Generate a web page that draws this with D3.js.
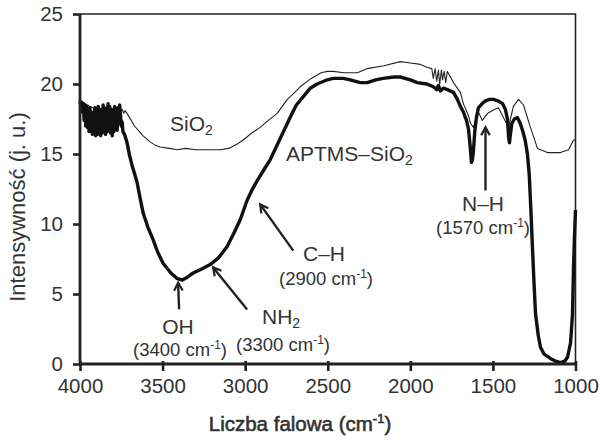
<!DOCTYPE html>
<html><head><meta charset="utf-8">
<script src="https://cdn.jsdelivr.net/npm/d3@7"></script>
<style>body{margin:0;background:#fff}svg{display:block;font-family:"Liberation Sans",Arial,sans-serif}</style>
</head><body><svg id="c" width="601" height="442"></svg>
<script>
// ---- data (wavenumber cm^-1, intensity) ----
const xTicks = [4000, 3500, 3000, 2500, 2000, 1500, 1000];
const yTicks = [0, 5, 10, 15, 20, 25];

const aptmsWn = [4000,3995,3990,3985,3980,3975,3970,3965,3960,3955,3950,3945,3940,3935,3930,3925,3920,3915,3910,3905,3900,3895,3890,3885,3880,3875,3870,3865,3860,3855,3850,3845,3840,3835,3830,3825,3820,3815,3810,3805,3800,3795,3790,3785,3780,3775,3770,3765,3760,3755,3750,3745,3740,3730,3715,3700,3685,3670,3655,3635,3618,3590,3558,3530,3497,3450,3412,3380,3350,3315,3260,3212,3160,3109,3070,3030,2988,2960,2927,2880,2848,2800,2760,2720,2690,2648,2606,2564,2503,2467,2406,2364,2303,2261,2210,2164,2100,2061,2000,1958,1900,1861,1840,1830,1818,1800,1776,1739,1715,1697,1679,1660,1648,1638,1630,1624,1618,1610,1600,1588,1565,1545,1520,1497,1470,1442,1425,1412,1405,1400,1393,1385,1370,1352,1335,1321,1305,1291,1280,1270,1261,1250,1242,1225,1212,1190,1152,1120,1091,1065,1048,1030,1018,1012,1005,1000];
const aptmsVal = [18.8,18.5,18.7,18.0,18.6,17.4,18.5,17.0,18.4,16.9,18.2,16.6,18.3,16.8,18.0,16.4,17.8,16.5,18.3,16.3,18.1,16.4,18.4,16.6,18.2,16.3,17.9,16.5,18.5,16.8,18.0,16.4,18.3,16.6,18.6,17.0,18.4,16.5,18.2,16.3,17.9,16.6,18.4,16.9,18.0,16.7,18.3,17.2,18.5,17.8,17.0,17.3,16.6,16.4,15.8,14.9,14.2,13.6,13.0,11.8,10.8,9.8,8.9,8.0,7.2,6.5,6.1,6.0,6.2,6.5,6.8,7.1,7.6,8.4,9.3,10.3,11.7,12.4,13.1,14.0,14.6,15.8,16.8,17.8,18.5,19.1,19.7,20.0,20.3,20.4,20.4,20.3,20.1,20.1,20.3,20.4,20.5,20.5,20.3,20.1,20.0,19.8,19.6,19.9,19.5,19.7,19.6,19.4,18.9,18.4,18.0,17.4,16.8,15.6,14.4,14.6,15.2,16.6,17.6,18.3,18.6,18.8,18.9,18.9,18.8,18.6,18.2,17.5,16.2,15.8,16.5,17.2,17.5,17.6,17.2,16.7,16.0,15.0,13.5,11.0,8.4,5.5,3.6,2.0,1.2,0.7,0.4,0.2,0.1,0.2,0.5,1.5,3.6,6.9,9.5,11.0];

const sio2Wn = [4000,3970,3940,3900,3860,3820,3790,3758,3745,3735,3728,3715,3700,3670,3640,3618,3580,3540,3515,3460,3412,3360,3300,3250,3212,3150,3100,3050,3012,2960,2909,2860,2806,2745,2709,2667,2600,2540,2503,2467,2400,2320,2261,2160,2061,2000,1939,1900,1870,1861,1850,1840,1830,1822,1812,1805,1795,1786,1776,1739,1697,1679,1650,1636,1618,1600,1588,1564,1533,1503,1467,1436,1406,1376,1345,1315,1273,1230,1170,1091,1042,1012,1000];
const sio2Val = [18.8,18.6,18.4,18.2,18.0,17.9,17.8,17.9,18.2,17.9,18.1,17.9,17.6,17.0,16.6,16.3,15.9,15.6,15.5,15.4,15.3,15.4,15.3,15.3,15.3,15.3,15.4,15.7,16.0,16.5,16.9,17.4,17.9,18.9,19.3,19.8,20.4,20.8,20.9,20.9,20.8,20.8,21.1,21.3,21.6,21.5,21.4,21.2,21.1,20.4,21.1,20.2,21.0,20.0,21.0,20.3,20.9,20.1,20.9,20.1,19.4,18.6,17.8,17.2,16.9,17.6,18.0,17.4,17.9,18.1,18.3,17.6,16.9,18.4,18.9,18.5,16.9,15.4,15.1,15.1,15.3,16.0,16.0];

// ---- layout ----
const svg = d3.select("#c");
const x = d3.scaleLinear().domain([4000, 1000]).range([80, 575.5]);
const y = d3.scaleLinear().domain([0, 25]).range([364, 14]);
const textCol = "#333";

// frame (top & right)
svg.append("path").attr("d", `M${x(4000)},${y(25)}H${x(1000)}V${y(0)}`)
  .attr("fill","none").attr("stroke","#222").attr("stroke-width",1.6);

// lines
const line = d3.line().x(d => x(d[0])).y(d => y(d[1]));
svg.append("path").datum(sio2Wn.map((w,i)=>[w,sio2Val[i]]))
  .attr("d", line).attr("fill","none").attr("stroke","#222").attr("stroke-width",1.1).attr("stroke-linejoin","round");
svg.append("path").datum(aptmsWn.map((w,i)=>[w,aptmsVal[i]]))
  .attr("d", line).attr("fill","none").attr("stroke","#111").attr("stroke-width",3.4).attr("stroke-linejoin","round");

// axes
const xAxis = svg.append("g").attr("transform",`translate(0,${y(0)})`)
  .call(d3.axisBottom(x).tickValues(xTicks).tickSize(7).tickPadding(7).tickFormat(d3.format("d")));
const yAxis = svg.append("g").attr("transform",`translate(${x(4000)},0)`)
  .call(d3.axisLeft(y).tickValues(yTicks).tickSize(7).tickPadding(10));
[xAxis, yAxis].forEach(g => {
  g.select(".domain").attr("stroke","#222").attr("stroke-width",2.8);
  g.selectAll(".tick line").attr("stroke","#222").attr("stroke-width",2.6);
  g.selectAll(".tick text").attr("fill",textCol).attr("font-size",20.5).attr("font-family","Liberation Sans, Arial, sans-serif");
});
xAxis.select(".domain").attr("d",`M${x(4000)},0H${x(1000)}`);
yAxis.select(".domain").attr("d",`M0,${y(0)}V${y(25)}`);
xAxis.selectAll(".tick line").attr("y1",-3);

// axis titles
const xt = svg.append("text").attr("x",300).attr("y",431).attr("text-anchor","middle")
  .attr("font-size",20.5).attr("fill",textCol).attr("stroke",textCol).attr("stroke-width",0.6);
xt.append("tspan").text("Liczba falowa (cm");
xt.append("tspan").attr("font-size",13).attr("dy",-8).text("-1");
xt.append("tspan").attr("dy",8).text(")");
svg.append("text").attr("transform","translate(25,207) rotate(-90)").attr("text-anchor","middle")
  .attr("font-size",22).attr("fill",textCol).text("Intensywność (j. u.)");

// labels
function label(px, py, main, sub, anchor){
  const t = svg.append("text").attr("x",px).attr("y",py).attr("font-size",21).attr("fill",textCol).attr("text-anchor",anchor||"start");
  t.append("tspan").text(main);
  if (sub) { t.append("tspan").attr("font-size",14).attr("dy",4).text(sub); }
  return t;
}
function wn(px, py, val){
  const t = svg.append("text").attr("x",px).attr("y",py).attr("font-size",18.5).attr("fill",textCol).attr("text-anchor","middle");
  t.append("tspan").text("(" + val + " cm");
  t.append("tspan").attr("font-size",12).attr("dy",-7).text("-1");
  t.append("tspan").attr("dy",7).text(")");
}
label(170,131,"SiO","2");
label(286,161,"APTMS–SiO","2");
label(483,211,"N–H",null,"middle"); wn(483,234,"1570");
label(324,261,"C–H",null,"middle"); wn(326,285,"2900");
label(178,334,"OH",null,"middle"); wn(180,356,"3400");
label(262,324,"NH","2"); wn(283,351,"3300");

// arrows (tip, tail in data coordinates)
const arrows = [
  [[3406,5.8],[3400,3.9]],
  [[3194,6.9],[2988,3.9]],
  [[2909,11.4],[2709,8.1]],
  [[1545,16.9],[1545,12.4]]
];
arrows.forEach(([tip,tail]) => {
  const tx=x(tip[0]), ty=y(tip[1]), sx=x(tail[0]), sy=y(tail[1]);
  svg.append("line").attr("x1",sx).attr("y1",sy).attr("x2",tx).attr("y2",ty)
    .attr("stroke","#222").attr("stroke-width",2.4);
  const a=Math.atan2(ty-sy,tx-sx), L=9, w=0.5;
  const p1=[tx-L*Math.cos(a-w), ty-L*Math.sin(a-w)], p2=[tx-L*Math.cos(a+w), ty-L*Math.sin(a+w)];
  svg.append("path").attr("d",`M${p1}L${tx},${ty}L${p2}`).attr("fill","none")
    .attr("stroke","#222").attr("stroke-width",2.2);
});
</script></body></html>
